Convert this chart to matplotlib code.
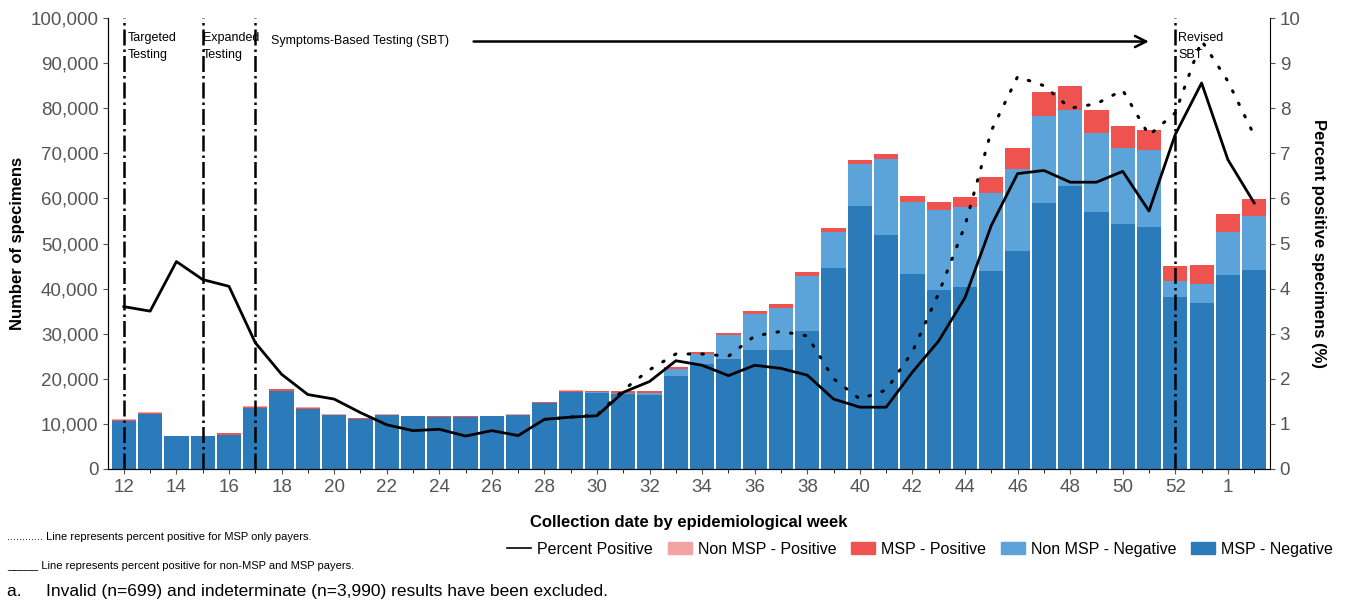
import matplotlib.pyplot as plt
from matplotlib.lines import Line2D
from matplotlib.patches import Patch
import numpy as np

plt.rcParams['font.family'] = ['Liberation Sans', 'DejaVu Sans']

weeks = list(range(12, 54)) + [1, 2]
msp_neg = [10600, 12200, 7200, 7200, 7600, 13500, 17400, 13400, 11900, 11100, 11900, 11700, 11600, 11600,
           11700, 11900, 14600, 17100, 16800, 16700, 16300, 20700, 23300, 24400, 26300, 26300, 30500, 44600,
           58300, 51900, 43300, 39800, 40300, 43900, 48400, 59000, 62700, 57000, 54400, 53600, 38100, 36900,
           43100, 44100]
nonmsp_neg = [0, 0, 0, 0, 0, 0, 0, 0, 0, 0, 0, 0, 0, 0, 0, 0, 0, 0, 300, 200, 600, 1500, 2200, 5200, 8100,
              9400, 12300, 8000, 9300, 16800, 16000, 17600, 17700, 17400, 18100, 19200, 17000, 17500, 16700,
              17200, 3500, 4200, 9500, 12000]
msp_pos = [300, 300, 200, 200, 300, 300, 300, 200, 150, 100, 150, 100, 100, 100, 100, 150, 200, 300, 200,
           300, 300, 500, 500, 500, 600, 800, 900, 900, 900, 1100, 1200, 1700, 2400, 3400, 4600, 5500, 5300,
           5000, 5000, 4300, 3400, 4100, 3900, 3700]
nonmsp_pos = [100, 100, 0, 0, 0, 100, 100, 100, 50, 50, 50, 0, 0, 0, 0, 50, 100, 100, 0, 0, 0, 0, 0, 0,
              0, 0, 0, 0, 0, 0, 0, 0, 0, 0, 0, 0, 0, 0, 0, 0, 0, 0, 0, 0]
pct_all = [3.6, 3.5, 4.6, 4.2, 4.05, 2.8, 2.1, 1.65, 1.55, 1.25, 0.98, 0.85, 0.88, 0.73, 0.85, 0.74, 1.1,
           1.15, 1.18, 1.7, 1.94, 2.4, 2.3, 2.07, 2.3, 2.23, 2.08, 1.55, 1.37, 1.37, 2.15, 2.84, 3.8, 5.4,
           6.55, 6.62, 6.36, 6.36, 6.6, 5.72, 7.42, 8.56, 6.86, 5.9]
pct_msp = [None] * 16 + [1.1, 1.15, 1.2, 1.75, 2.2, 2.55, 2.55, 2.5, 2.95, 3.05, 2.95, 2.0, 1.55, 1.75,
           2.6, 3.9, 5.4, 7.5, 8.7, 8.5, 8.0, 8.1, 8.4, 7.4, 7.9, 9.5, 8.6, 7.4]
phase_weeks = [12, 15, 17, 52]

x = np.arange(len(weeks))
pm = np.array([np.nan if v is None else v for v in pct_msp], dtype=float)

c_mn, c_nn, c_mp, c_np = '#2b7bba', '#5ba3d9', '#ef5350', '#f4a3a3'

fig = plt.figure(figsize=(13.51, 6.02), dpi=100)
ax = fig.add_axes([0.08, 0.221, 0.86, 0.749])
b = np.array(msp_neg, float)
ax.bar(x, msp_neg, width=0.92, color=c_mn)
ax.bar(x, nonmsp_neg, width=0.92, bottom=b, color=c_nn)
b = b + nonmsp_neg
ax.bar(x, msp_pos, width=0.92, bottom=b, color=c_mp)
b = b + msp_pos
ax.bar(x, nonmsp_pos, width=0.92, bottom=b, color=c_np)

ax.set_ylim(0, 100000)
ax.set_xlim(-0.6, len(weeks) - 0.4)
ax.set_yticks(range(0, 100001, 10000))
ax.set_yticklabels([f'{v:,}' for v in range(0, 100001, 10000)])
ax.set_xticks(x[::2])
ax.set_xticklabels([str(w) for w in weeks[::2]])
ax.set_xticks(x, minor=True)
ax.tick_params(colors='#555555', labelsize=13.5)
ax.tick_params(axis='x', which='minor', length=3)
ax.spines['top'].set_visible(False)
ax.spines['right'].set_visible(False)
ax.set_ylabel('Number of specimens', fontsize=12, fontweight='bold')
ax.set_xlabel('Collection date by epidemiological week', fontsize=12, fontweight='bold', labelpad=14)

ax2 = ax.twinx()
ax2.plot(x, pct_all, color='black', lw=2)
ax2.plot(x, pm, color='black', lw=2.2, ls=(0, (0.5, 4)), dash_capstyle='round')
ax2.set_ylim(0, 10)
ax2.set_yticks(range(0, 11))
ax2.tick_params(colors='#555555', labelsize=13.5)
ax2.spines['top'].set_visible(False)
ax2.set_ylabel('Percent positive specimens (%)', fontsize=12, fontweight='bold', rotation=270, labelpad=18)

for w in phase_weeks:
    ax.axvline(weeks.index(w), color='black', lw=1.8, ls='-.')

ax.text(0.15, 97000, 'Targeted\nTesting', fontsize=9, va='top', linespacing=1.6)
ax.text(3.0, 97000, 'Expanded\nTesting', fontsize=9, va='top', linespacing=1.6)
ax.text(5.6, 95000, 'Symptoms-Based Testing (SBT)', fontsize=9, va='center')
ax.annotate('', xy=(39.1, 94800), xytext=(13.2, 94800),
            arrowprops=dict(arrowstyle='->', lw=1.8, color='black', mutation_scale=20))
ax.text(40.1, 97000, 'Revised\nSBT', fontsize=9, va='top', linespacing=1.6)

handles = [Line2D([], [], color='black', lw=1.2),
           Patch(color=c_np), Patch(color=c_mp), Patch(color=c_nn), Patch(color=c_mn)]
labels = ['Percent Positive', 'Non MSP - Positive', 'MSP - Positive', 'Non MSP - Negative', 'MSP - Negative']
fig.legend(handles, labels, loc='center right', bbox_to_anchor=(0.995, 0.088), ncol=5, frameon=False,
           fontsize=11.5, handlelength=1.5, columnspacing=0.9, handletextpad=0.4, borderpad=0.2)

fig.text(0.005, 0.103, '............ Line represents percent positive for MSP only payers.', fontsize=8)
fig.text(0.005, 0.055, '_____ Line represents percent positive for non-MSP and MSP payers.', fontsize=8)
fig.text(0.005, 0.01, 'a.     Invalid (n=699) and indeterminate (n=3,990) results have been excluded.', fontsize=12.5)

fig.savefig('out.png', dpi=100)
